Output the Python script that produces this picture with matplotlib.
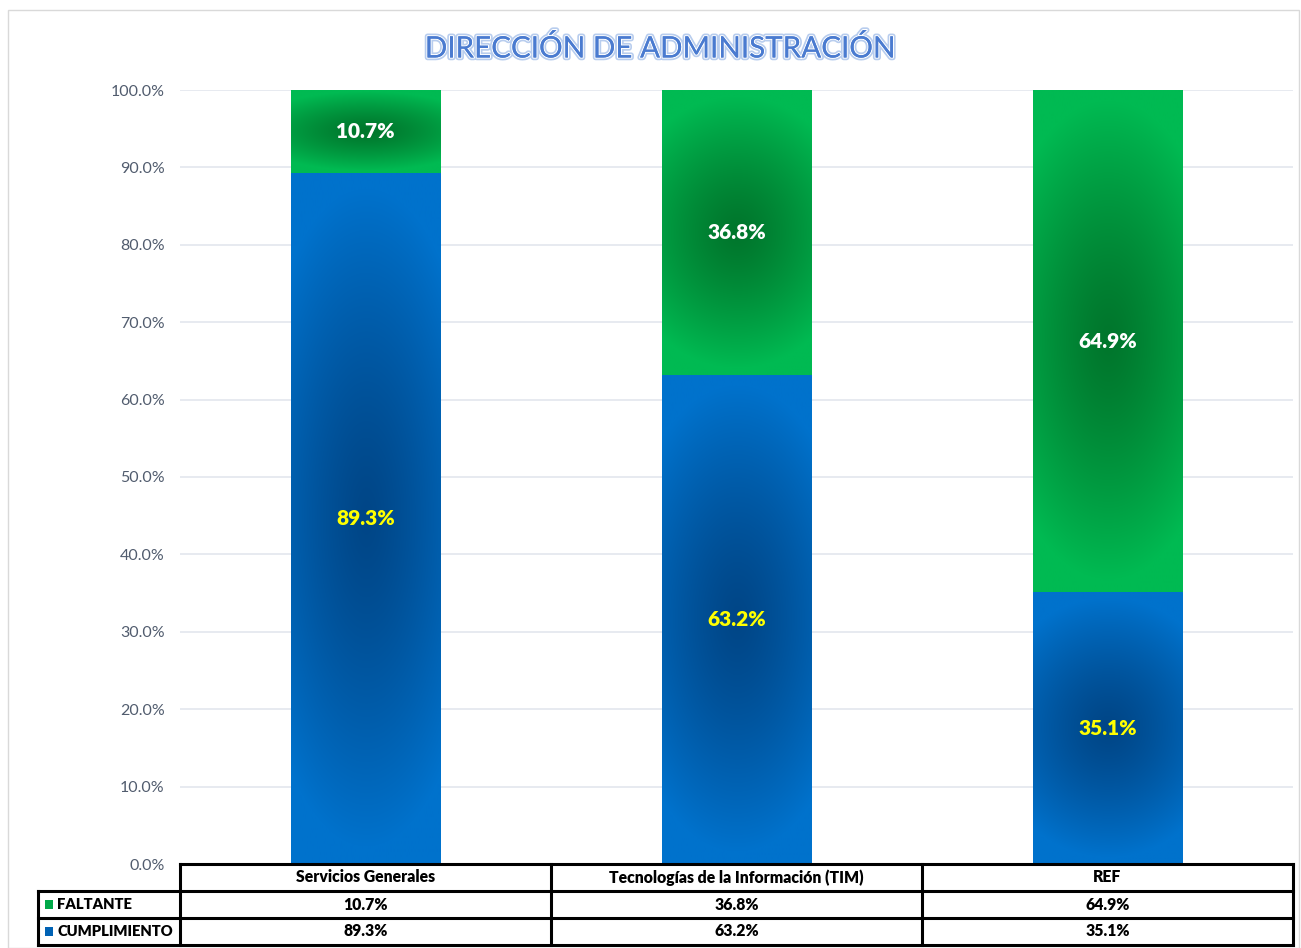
import matplotlib.pyplot as plt
import matplotlib.patheffects as pe
import matplotlib.transforms as mtransforms
from matplotlib.patches import Rectangle
import numpy as np

# === Data ===
categories = ["Servicios Generales", "Tecnologías de la Información (TIM)", "REF"]
cumplimiento = [89.3, 63.2, 35.1]
faltante = [10.7, 36.8, 64.9]
series_names = ["FALTANTE", "CUMPLIMIENTO"]
title = "DIRECCIÓN DE ADMINISTRACIÓN"

# === Style ===
plt.rcParams['font.family'] = ['Lato', 'DejaVu Sans']
blue_edge = np.array([0, 114, 204]) / 255
blue_mid = np.array([0, 70, 135]) / 255
green_edge = np.array([0, 186, 82]) / 255
green_mid = np.array([0, 118, 44]) / 255

fig = plt.figure(figsize=(13.01, 9.48), dpi=100)
ax = fig.add_axes([180 / 1301, 1 - 864 / 948, 1113 / 1301, 774 / 948])
ax.set_xlim(-0.5, 2.5)
ax.set_ylim(0, 100)
for s in ax.spines.values():
    s.set_visible(False)
ax.set_xticks([])
ax.set_yticks(np.arange(0, 101, 10))
ax.set_yticklabels([f"{v:.1f}%" for v in np.arange(0, 101, 10)], color='#515c6e', fontsize=11.5)
ax.tick_params(axis='y', length=0, pad=11)
ax.grid(axis='y', color='#e3e6ee', lw=1.2)
ax.set_axisbelow(True)

x = np.arange(len(categories))
bw = 0.404
bars_c = ax.bar(x, cumplimiento, bw, color='none', lw=0)
bars_f = ax.bar(x, faltante, bw, bottom=cumplimiento, color='none', lw=0)


def gradient_fill(bar, c_edge, c_mid):
    x0, y0 = bar.get_x(), bar.get_y()
    w, h = bar.get_width(), bar.get_height()
    # pixel size of the segment for a round-ish gradient
    wp = w * 1113 / 3
    hp = h * 7.74
    ny, nx = max(int(hp), 2), max(int(wp), 2)
    yy, xx = np.mgrid[0:ny, 0:nx]
    dx = (xx - nx / 2) / (nx / 2)
    dy = (yy - ny / 2) / (ny / 2)
    d = np.sqrt((dx * 0.6) ** 2 + dy ** 2)
    t = np.clip(d / 0.95, 0, 1) ** 1.3
    img = c_mid[None, None, :] * (1 - t[..., None]) + c_edge[None, None, :] * t[..., None]
    im = ax.imshow(img, extent=(x0, x0 + w, y0, y0 + h), aspect='auto',
                   origin='lower', interpolation='bilinear', zorder=2)
    im.set_clip_path(bar)


for b in bars_c:
    gradient_fill(b, blue_edge, blue_mid)
for b in bars_f:
    gradient_fill(b, green_edge, green_mid)
ax.set_xlim(-0.5, 2.5)
ax.set_ylim(0, 100)

for i in range(len(categories)):
    ax.text(x[i], cumplimiento[i] / 2, f"{cumplimiento[i]:.1f}%", ha='center', va='center',
            color='#ffff00', fontsize=15, fontweight='heavy', zorder=3)
    ax.text(x[i], cumplimiento[i] + faltante[i] / 2, f"{faltante[i]:.1f}%", ha='center', va='center',
            color='white', fontsize=15, fontweight='heavy', zorder=3)

# === Data table ===
trans = mtransforms.blended_transform_factory(ax.transData, ax.transAxes)
row_h = 27 / 774
left_x = (38 - 180) / 371 - 0.5
lw_t = 2.2


def tline(xs, ys):
    ax.plot(xs, ys, color='black', lw=lw_t, transform=trans, clip_on=False,
            solid_capstyle='projecting', zorder=5)


tline([-0.5, 2.5], [0, 0])
for r in range(1, 4):
    tline([left_x, 2.5], [-r * row_h, -r * row_h])
for c in range(len(categories) + 1):
    tline([c - 0.5, c - 0.5], [0, -3 * row_h])
tline([left_x, left_x], [-row_h, -3 * row_h])

for i, cat in enumerate(categories):
    ax.text(x[i], -0.5 * row_h, cat, ha='center', va='center', fontsize=11.3,
            fontweight='heavy', transform=trans)
    ax.text(x[i], -1.5 * row_h, f"{faltante[i]:.1f}%", ha='center', va='center', fontsize=11.3,
            fontweight='heavy', transform=trans)
    ax.text(x[i], -2.5 * row_h, f"{cumplimiento[i]:.1f}%", ha='center', va='center', fontsize=11.3,
            fontweight='heavy', transform=trans)

key_colors = ['#00a848', '#0062b4']
for r, (name, kc) in enumerate(zip(series_names, key_colors)):
    yc = -(r + 1.5) * row_h
    kx = left_x + 0.019
    ax.add_patch(Rectangle((kx, yc - 0.0055), 0.022, 0.011, transform=trans,
                           facecolor=kc, edgecolor='none', clip_on=False))
    ax.text(kx + 0.033, yc, name, ha='left', va='center', fontsize=10.6,
            fontweight='heavy', transform=trans)

# === Title ===
fig.text(661 / 1301, 1 - 48 / 948, title, ha='center', va='center', fontsize=21.3,
         color='#4a7bd0',
         path_effects=[pe.withStroke(linewidth=4, foreground='#b8cdee'),
                       pe.withStroke(linewidth=1.6, foreground='white'),
                       pe.Normal()])

# chart border
fig.add_artist(Rectangle((8 / 1301, 0), 1291 / 1301, 1 - 10 / 948, transform=fig.transFigure,
                         fill=False, edgecolor='#d9d9d9', lw=1))

fig.savefig('out.png', dpi=100)
